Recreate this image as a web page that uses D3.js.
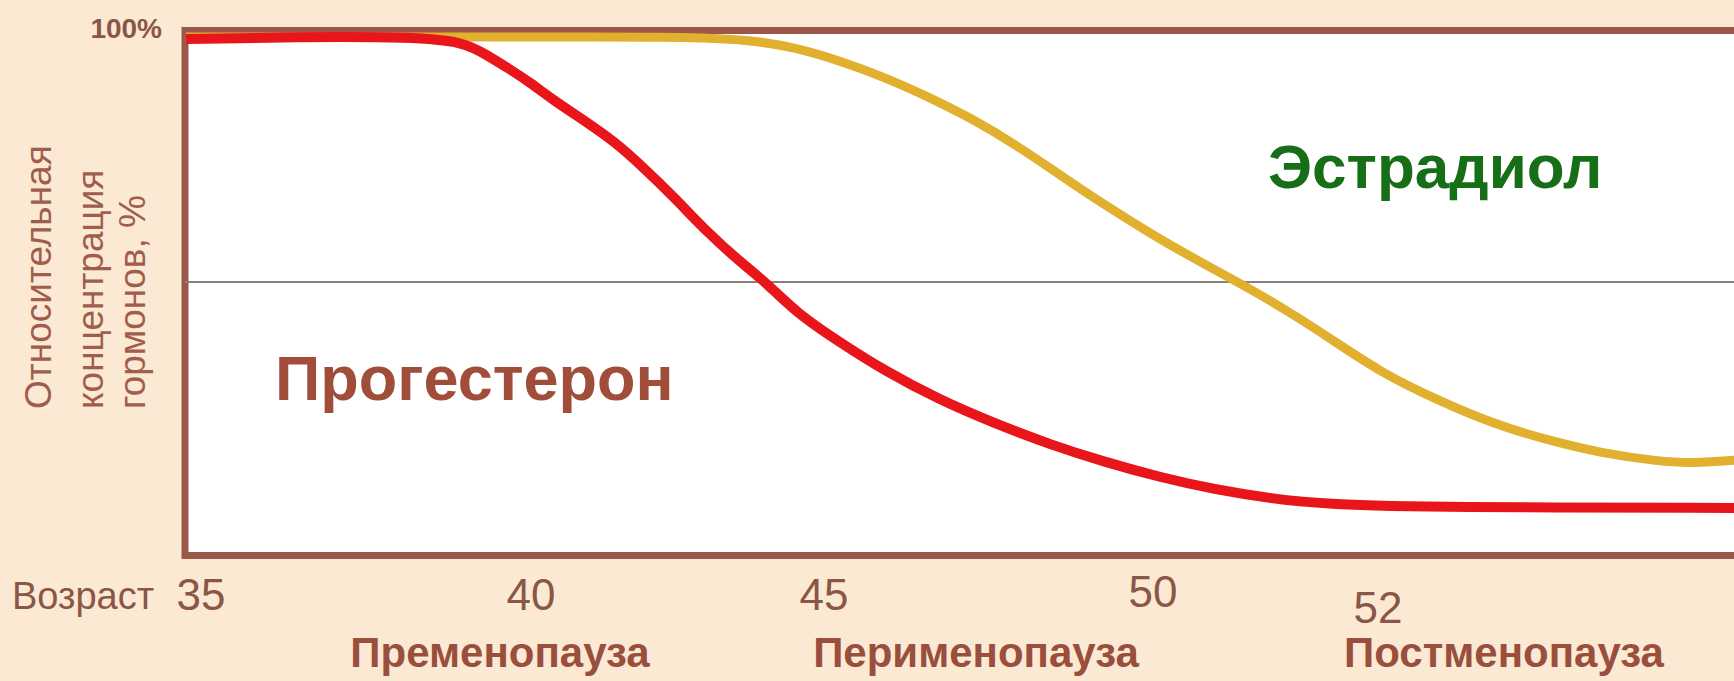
<!DOCTYPE html>
<html>
<head>
<meta charset="UTF-8">
<script src="https://cdn.jsdelivr.net/npm/d3@7"></script>
<style>
body {margin:0; background:#fbe9d4;}
svg text {font-family: "Liberation Sans", Arial, sans-serif;}
.frame {fill:#fff; stroke:#99584a; stroke-width:7px;}
.midline {stroke:#8d7f79; stroke-width:2px;}
.tick-label {fill:#8a5646; font-size:44px;}
.axis-name {fill:#8a5646; font-size:38px;}
.y-name {fill:#a05d4d; font-size:37px;}
.phase {fill:#9a4f3d; font-size:42px; font-weight:bold;}
.series-name {font-weight:bold;}
</style>
<title>Гормоны</title>
</head>
<body>
<svg id="chart" width="1734" height="681"></svg>
<script>
// возраст (лет) и относительная концентрация (%)
var progAge = [34.77, 36.5, 38.2, 38.99, 39.33, 39.66, 40.0, 40.37, 40.94, 41.42, 41.89, 42.45, 43.02, 43.58, 44.05, 44.52, 45.25, 45.92, 46.76, 47.6, 48.44, 49.28, 50.07, 50.56, 51.05, 51.55, 52.53, 55.2];
var progVal = [99.6, 100, 100, 99.0, 96.3, 93.6, 90.6, 87.2, 82.7, 78.7, 73.7, 67.2, 60.0, 54.0, 49.5, 43.8, 37.6, 31.9, 25.9, 21.1, 16.8, 13.2, 10.1, 7.6, 5.8, 4.6, 4.0, 3.9];

var estrAge = [34.77, 38.0, 41.2, 42.64, 43.77, 44.53, 45.25, 45.92, 46.6, 47.27, 47.94, 48.61, 49.28, 49.96, 50.37, 50.81, 51.16, 51.55, 52.04, 52.53, 53.02, 53.51, 54.0, 54.5, 54.79, 55.2];
var estrVal = [100, 100, 100, 100, 99.4, 97.8, 95.1, 91.8, 87.7, 83.2, 77.8, 71.6, 65.6, 59.9, 54.7, 49.3, 44.6, 38.9, 31.3, 25.9, 21.1, 17.7, 15.0, 13.4, 13.0, 13.7];

var ageTicks = [35, 40, 45, 50, 52];
var phaseNames = ["Пременопауза", "Перименопауза", "Постменопауза"];
var phaseAge = [39.53, 47.31, 53.12];
var yNameLines = ["Относительная", "концентрация", "гормонов, %"];

var svg = d3.select("#chart");

// шкала возраста на картинке неравномерная
var x = d3.scaleLinear().domain(ageTicks).range([201, 531, 824, 1153, 1378]);
var y = d3.scaleLinear().domain([0, 100]).range([527, 37]);

var frameLeft = 185, frameTop = 30.5, frameBottom = 555.5;

svg.append("rect").attr("class", "frame")
    .attr("x", frameLeft).attr("y", frameTop)
    .attr("width", 1734).attr("height", frameBottom - frameTop);

svg.append("line").attr("class", "midline")
    .attr("x1", frameLeft).attr("x2", 1734)
    .attr("y1", y(50)).attr("y2", y(50));

var line = d3.line()
    .x(function(d) { return x(d[0]); })
    .y(function(d) { return y(d[1]); })
    .curve(d3.curveBasis);

svg.append("path")
    .datum(d3.zip(estrAge, estrVal))
    .attr("d", line)
    .attr("fill", "none").attr("stroke", "#e1b02e").attr("stroke-width", 9);

svg.append("path")
    .datum(d3.zip(progAge, progVal))
    .attr("d", line)
    .attr("fill", "none").attr("stroke", "#e8161a").attr("stroke-width", 10);

// подписи
svg.append("text").attr("class", "tick-label")
    .attr("x", 162).attr("y", 38).attr("text-anchor", "end")
    .style("font-size", "28px").style("font-weight", "bold").text("100%");

svg.append("text").attr("class", "axis-name")
    .attr("x", 12).attr("y", 609).text("Возраст");

svg.selectAll(".tick-label.age").data(ageTicks).enter()
    .append("text").attr("class", "tick-label age")
    .attr("x", function(d) { return x(d); })
    .attr("y", function(d) { return d == 52 ? 623 : (d == 50 ? 607 : 610); })
    .attr("text-anchor", "middle")
    .text(function(d) { return d; });

svg.selectAll(".phase").data(phaseNames).enter()
    .append("text").attr("class", "phase")
    .attr("x", function(d, i) { return x(phaseAge[i]); })
    .attr("y", 667)
    .attr("text-anchor", "middle")
    .text(function(d) { return d; });

svg.selectAll(".y-name").data(yNameLines).enter()
    .append("text").attr("class", "y-name")
    .attr("transform", function(d, i) { return "translate(" + [51, 103, 145][i] + ",409) rotate(-90)"; })
    .text(function(d) { return d; });

svg.append("text").attr("class", "series-name")
    .attr("x", 275).attr("y", 400)
    .style("font-size", "63px").attr("fill", "#a04e3a")
    .text("Прогестерон");

svg.append("text").attr("class", "series-name")
    .attr("x", 1268).attr("y", 188)
    .style("font-size", "62px").attr("fill", "#166f17")
    .text("Эстрадиол");
</script>
</body>
</html>
